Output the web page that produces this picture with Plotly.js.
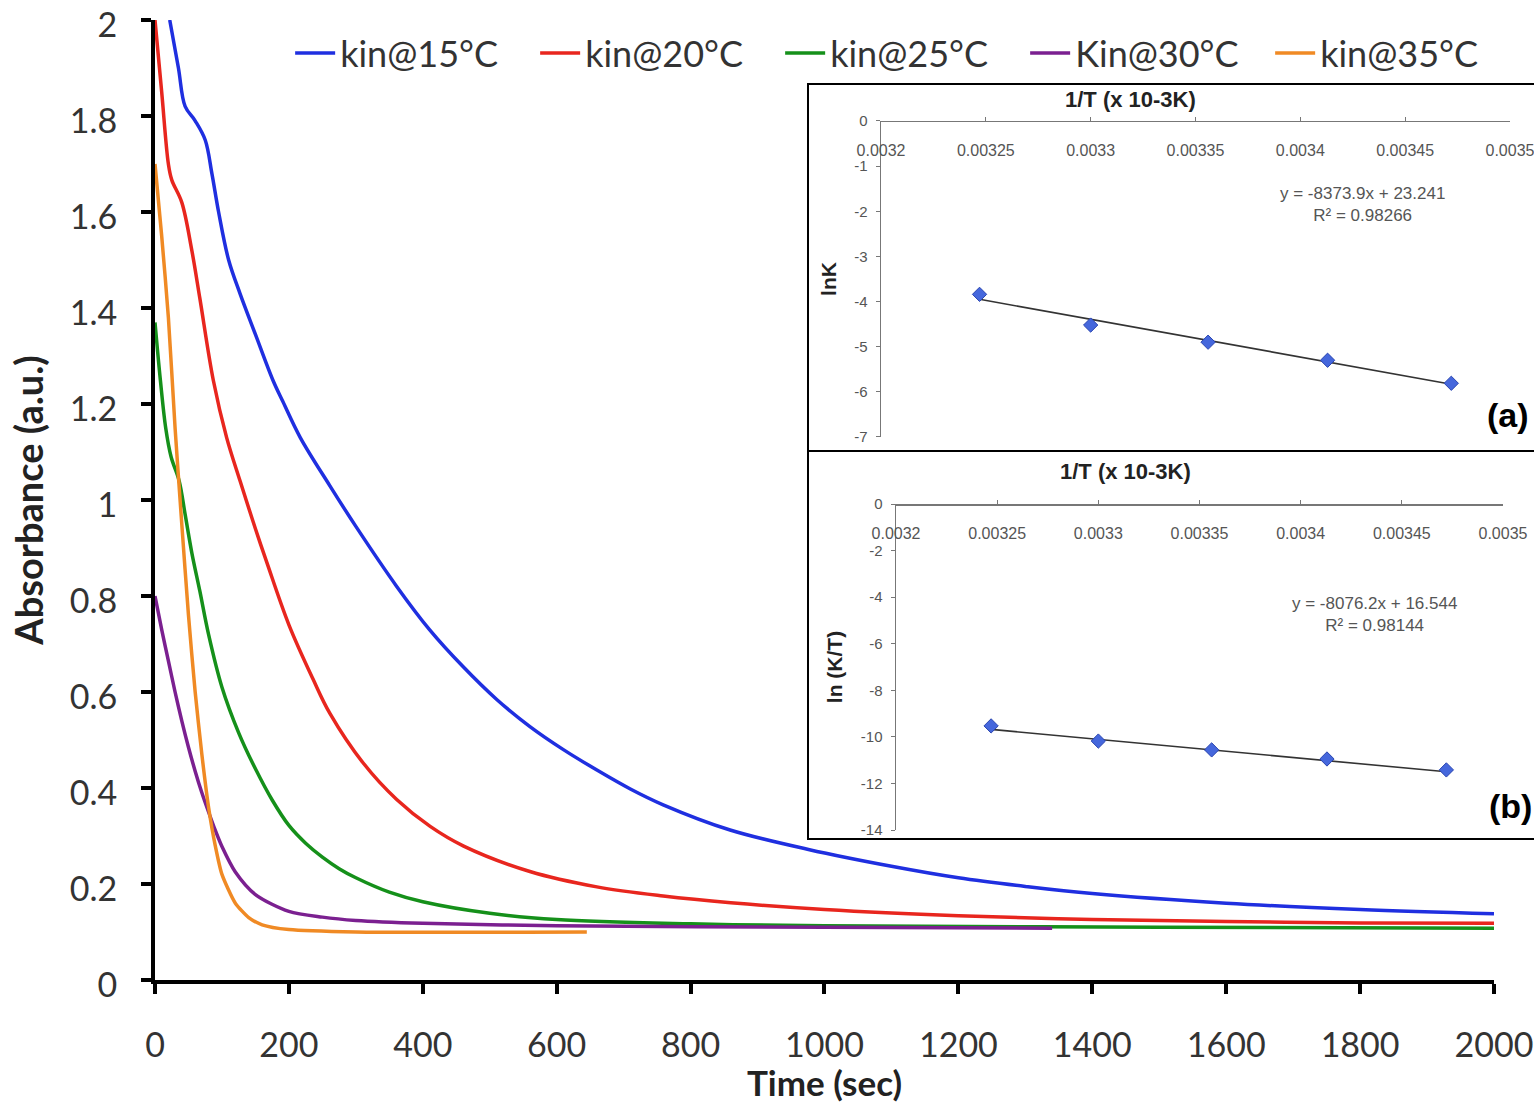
<!DOCTYPE html>
<html>
<head>
<meta charset="utf-8">
<script src="https://cdn.plot.ly/plotly-3.0.1.min.js"></script>
<style>html,body{margin:0;padding:0;background:#fff;}#chart{width:1534px;height:1103px;}</style>
</head>
<body>
<div id="chart"></div>
<script>
// ---- main kinetics curves (Time in sec, Absorbance in a.u.) ----
const time15 = [22, 35, 45, 60, 75, 85, 95, 110, 127, 150, 176, 191, 217, 261, 300, 361, 410, 460, 510, 560, 610, 660, 710, 759, 859, 976, 1100, 1200, 1300, 1400, 1600, 1800, 2000];
const abs15  = [2.0, 1.9, 1.82, 1.79, 1.75, 1.68, 1.6, 1.5, 1.43, 1.345, 1.25, 1.205, 1.13, 1.03, 0.945, 0.82, 0.73, 0.653, 0.585, 0.528, 0.48, 0.4375, 0.398, 0.365, 0.3125, 0.272, 0.237, 0.213, 0.195, 0.18, 0.16, 0.147, 0.138];

const time20 = [0, 10, 20, 25, 40, 55, 67, 87, 107, 127, 150, 167, 200, 236, 261, 311, 361, 411, 461, 560, 660, 759, 860, 1000, 1200, 1400, 1600, 1800, 2000];
const abs20  = [2.0, 1.85, 1.7, 1.667, 1.62, 1.52, 1.42, 1.25, 1.13, 1.04, 0.94, 0.87, 0.74, 0.627, 0.556, 0.452, 0.376, 0.32, 0.279, 0.226, 0.194, 0.175, 0.161, 0.147, 0.134, 0.126, 0.122, 0.119, 0.118];

const time25 = [0, 8, 16, 24, 36, 45, 55, 67, 80, 100, 125, 150, 175, 200, 225, 250, 275, 300, 350, 400, 500, 600, 800, 1000, 1500, 2000];
const abs25  = [1.37, 1.25, 1.15, 1.09, 1.04, 0.97, 0.89, 0.81, 0.72, 0.61, 0.515, 0.44, 0.375, 0.322, 0.285, 0.256, 0.232, 0.213, 0.183, 0.163, 0.139, 0.126, 0.117, 0.113, 0.11, 0.108];

const time30 = [0, 10, 20, 30, 40, 50, 60, 70, 80, 90, 100, 120, 150, 200, 250, 300, 400, 600, 1000, 1340];
const abs30  = [0.80, 0.73, 0.665, 0.6, 0.54, 0.485, 0.435, 0.39, 0.35, 0.312, 0.278, 0.225, 0.178, 0.143, 0.131, 0.124, 0.118, 0.113, 0.11, 0.108];

const time35 = [0, 10, 20, 30, 40, 50, 60, 70, 80, 90, 100, 120, 140, 160, 200, 300, 645];
const abs35  = [1.70, 1.55, 1.38, 1.15, 0.95, 0.76, 0.6, 0.47, 0.36, 0.28, 0.22, 0.16, 0.13, 0.115, 0.105, 0.1, 0.1];

const seriesNames  = ['kin@15°C', 'kin@20°C', 'kin@25°C', 'Kin@30°C', 'kin@35°C'];
const seriesColors = ['#1f2fe0', '#e8261e', '#15901a', '#7b2090', '#f08a24'];
const seriesSmooth = [1.0, 1.0, 1.0, 0.8, 0.6];

// ---- inset data (Arrhenius / Eyring) ----
const invT   = [0.003247, 0.0033, 0.003356, 0.003413, 0.003472];
const lnK    = [-3.84, -4.52, -4.90, -5.30, -5.81];
const lnKT   = [-9.53, -10.18, -10.56, -10.95, -11.42];
const fitX      = [0.003247, 0.003472];
const fitLnK    = [-3.95, -5.83];
const fitLnKT   = [-9.68, -11.50];
const insetXTicks  = [0.0032, 0.00325, 0.0033, 0.00335, 0.0034, 0.00345, 0.0035];
const insetXLabels = ['0.0032', '0.00325', '0.0033', '0.00335', '0.0034', '0.00345', '0.0035'];
const insetAYTicks  = [0, -1, -2, -3, -4, -5, -6, -7];
const insetAYLabels = ['0', '-1', '-2', '-3', '-4', '-5', '-6', '-7'];
const insetBYTicks  = [0, -2, -4, -6, -8, -10, -12, -14];
const insetBYLabels = ['0', '-2', '-4', '-6', '-8', '-10', '-12', '-14'];
const insetXTitle = '1/T (x 10-3K)';
const eqA = 'y = -8373.9x + 23.241<br>R² = 0.98266';
const eqB = 'y = -8076.2x + 16.544<br>R² = 0.98144';

const mainFont = 'Lato, "Open Sans", sans-serif';
const insetFont = '"Liberation Sans Narrow", "Liberation Sans", Arial, sans-serif';

const times = [time15, time20, time25, time30, time35];
const absv  = [abs15, abs20, abs25, abs30, abs35];

const traces = [];
for (let i = 0; i < 5; i++) {
  traces.push({
    x: times[i], y: absv[i], type: 'scatter', mode: 'lines',
    name: seriesNames[i],
    line: {color: seriesColors[i], width: 3.5, shape: 'spline', smoothing: seriesSmooth[i]},
    xaxis: 'x', yaxis: 'y', hoverinfo: 'skip'
  });
}
const mk = {symbol: 'diamond', size: 11, color: '#4567dc', line: {color: '#2a45b0', width: 1}};
traces.push({x: fitX, y: fitLnK, type: 'scatter', mode: 'lines', line: {color: '#333', width: 1.6},
  xaxis: 'x2', yaxis: 'y2', showlegend: false});
traces.push({x: invT, y: lnK, type: 'scatter', mode: 'markers', marker: mk,
  xaxis: 'x2', yaxis: 'y2', showlegend: false});
traces.push({x: fitX, y: fitLnKT, type: 'scatter', mode: 'lines', line: {color: '#333', width: 1.6},
  xaxis: 'x3', yaxis: 'y3', showlegend: false});
traces.push({x: invT, y: lnKT, type: 'scatter', mode: 'markers', marker: mk,
  xaxis: 'x3', yaxis: 'y3', showlegend: false});

const insetX = (dom, pos) => ({
  domain: dom, anchor: 'free', position: pos, side: 'bottom', range: [0.0032, 0.0035],
  tickvals: insetXTicks, ticktext: insetXLabels,
  ticks: 'inside', ticklen: 4, tickwidth: 1, tickcolor: '#777',
  ticklabelstandoff: 14, ticklabeloverflow: 'allow',
  tickfont: {family: insetFont, size: 16, color: '#555'},
  showline: true, linecolor: '#777', linewidth: 1.5, showgrid: false, zeroline: false
});
const insetY = (dom, anchor, rng, tv, tt, ttl) => ({
  domain: dom, anchor: anchor, range: rng, tickvals: tv, ticktext: tt,
  ticks: 'outside', ticklen: 4, tickwidth: 1, tickcolor: '#777',
  ticklabeloverflow: 'allow', ticklabelstandoff: 5,
  tickfont: {family: insetFont, size: 15, color: '#555'},
  showline: true, linecolor: '#777', linewidth: 1.5, showgrid: false, zeroline: false,
  title: {text: '<b>' + ttl + '</b>', font: {family: insetFont, size: 21, color: '#222'}, standoff: 12}
});

const annot = (x, y, text, size, color) => ({
  xref: 'paper', yref: 'paper', x: x, y: y, xanchor: 'center', yanchor: 'middle',
  text: text, showarrow: false, align: 'center', font: {family: insetFont, size: size, color: color}
});

const layout = {
  width: 1534, height: 1103,
  margin: {l: 155, r: 0, t: 20, b: 123},
  paper_bgcolor: '#fff', plot_bgcolor: 'rgba(0,0,0,0)',
  showlegend: true,
  legend: {
    orientation: 'h', x: 0.098, y: 0.9656, xanchor: 'left', yanchor: 'middle',
    font: {family: mainFont, size: 36, color: '#333'},
    entrywidth: 190, entrywidthmode: 'pixels', bgcolor: 'rgba(0,0,0,0)', itemwidth: 40
  },
  xaxis: {
    domain: [0, 0.97099], range: [0, 2000.01], dtick: 200, anchor: 'y',
    showline: true, linecolor: '#000', linewidth: 4,
    ticks: 'outside', ticklen: 10, tickwidth: 4, tickcolor: '#000',
    tickfont: {family: mainFont, size: 34, color: '#333'}, ticklabelstandoff: 22,
    ticklabeloverflow: 'allow',
    showgrid: false, zeroline: false,
    title: {text: '<b>Time (sec)</b>', font: {family: mainFont, size: 35, color: '#222'}, standoff: 6}
  },
  yaxis: {
    domain: [0, 1], range: [0, 2.00001], dtick: 0.2, anchor: 'x',
    showline: true, linecolor: '#000', linewidth: 4,
    ticks: 'outside', ticklen: 10, tickwidth: 4, tickcolor: '#000',
    tickfont: {family: mainFont, size: 34, color: '#333'}, ticklabelstandoff: 17,
    ticklabelshift: 5, ticklabeloverflow: 'allow',
    showgrid: false, zeroline: false,
    title: {text: '<b>Absorbance (a.u.)</b>', font: {family: mainFont, size: 38, color: '#222'}, standoff: 15}
  },
  xaxis2: insetX([0.52647, 0.98259], 0.894792),
  yaxis2: insetY([0.565625, 0.894792], 'x2', [-7, 0.00001], insetAYTicks, insetAYLabels, 'lnK'),
  xaxis3: insetX([0.53735, 0.97752], 0.495833),
  yaxis3: insetY([0.15625, 0.495833], 'x3', [-14, 0.00001], insetBYTicks, insetBYLabels, 'ln (K/T)'),
  shapes: [
    {type: 'rect', xref: 'paper', yref: 'paper', x0: 0.47353, x1: 1.04, y0: 0.55104, y1: 0.93333,
     line: {color: '#000', width: 2}, fillcolor: '#fff', layer: 'below'},
    {type: 'rect', xref: 'paper', yref: 'paper', x0: 0.47353, x1: 1.04, y0: 0.146875, y1: 0.55104,
     line: {color: '#000', width: 2}, fillcolor: '#fff', layer: 'below'}
  ],
  annotations: [
    annot(0.7071, 0.9167, '<b>' + insetXTitle + '</b>', 22, '#222'),
    annot(0.7035, 0.5302, '<b>' + insetXTitle + '</b>', 22, '#222'),
    annot(0.8753, 0.808, eqA, 17, '#555'),
    annot(0.8840, 0.381, eqB, 17, '#555'),
    annot(0.9811, 0.5885, '<b>(a)</b>', 34, '#000'),
    annot(0.9826, 0.18125, '<b>(b)</b>', 34, '#000')
  ]
};

Plotly.newPlot('chart', traces, layout, {displayModeBar: false, staticPlot: true});
</script>
</body>
</html>
